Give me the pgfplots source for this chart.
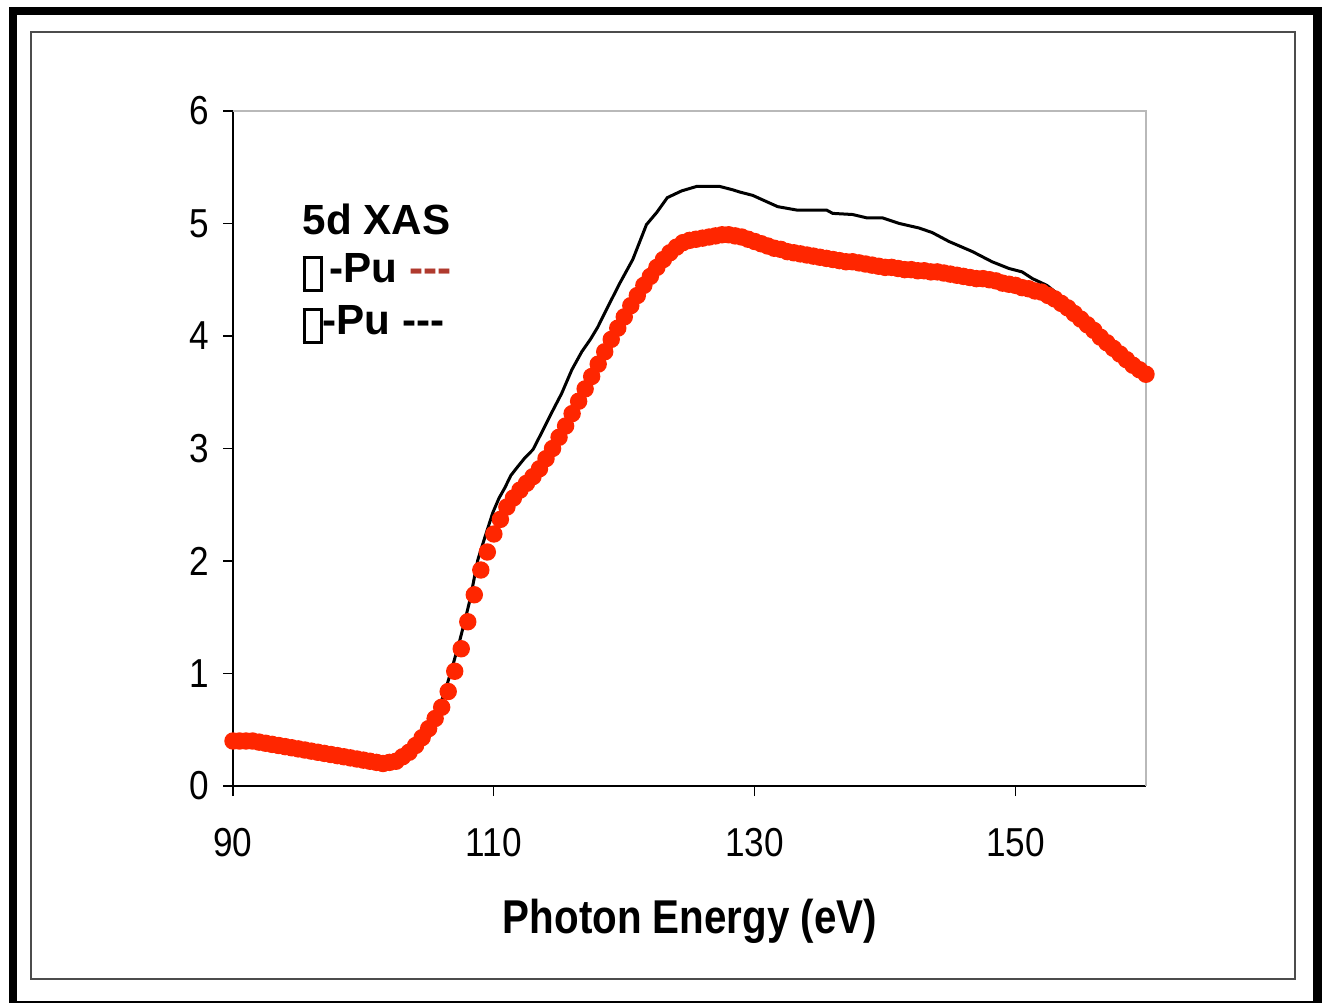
\documentclass[border=0pt]{standalone}
\usepackage{fontspec}
\setmainfont{Liberation Sans}
\usepackage{pgfplots}
\pgfplotsset{compat=1.18}
\definecolor{mred}{RGB}{255,38,0}
\definecolor{lred}{RGB}{176,58,46}
\newcommand\tofu{\raisebox{-0.6mm}{\setlength\fboxsep{0pt}\setlength\fboxrule{0.3mm}\fbox{\rule{0pt}{3.0mm}\hspace{1.4mm}}}}
\newcommand\dashes{-\kern0pt-\kern0pt-}
\begin{document}
\begin{tikzpicture}
\useasboundingbox (-23.3mm,-21.6mm) rectangle (109.0mm,78.6mm);
\draw[line width=0.85mm] (-22.0mm,-21.9mm) rectangle (108.45mm,77.5mm);
\draw[line width=0.15mm, gray!60!black] (-20.2mm,-19.3mm) rectangle (106.2mm,75.4mm);
\begin{axis}[
  at={(0,0)}, anchor=south west,
  scale only axis, width=91.3mm, height=67.5mm,
  xmin=90, xmax=160, ymin=0, ymax=6,
  axis x line*=bottom, axis y line*=left,
  axis line style={line width=0.12mm, black},
  xtick={90,110,130,150}, ytick={0,1,2,3,4,5,6},
  tick align=outside, major tick length=1mm,
  tick style={line width=0.12mm, black},
  /pgf/number format/assume math mode=true,
  ticklabel style={font=\fontsize{11.5}{13}\selectfont, xscale=0.87},
  xticklabel style={anchor=north, inner sep=0pt, yshift=-3.2mm},
  yticklabel style={anchor=east, inner sep=0pt, xshift=-1.5mm},
  clip=false,
]
\draw[gray!55, line width=0.12mm] (rel axis cs:0,1) -- (rel axis cs:1,1) -- (rel axis cs:1,0);
\addplot[black, line width=0.3mm, mark=none] coordinates {
(90,0.40) (92,0.39) (94,0.35) (96,0.31) (98,0.27) (100,0.23) (101.5,0.20) (102.5,0.22)
(103.5,0.30) (104.5,0.44) (105.5,0.62) (106.2,0.82) (106.8,1.05) (107.4,1.30) (107.8,1.48)
(108.16,1.65) (108.5,1.85) (108.77,2.01) (109.31,2.21) (109.92,2.43) (110.4,2.56) (110.84,2.65)
(111.3,2.76) (111.84,2.84) (112.4,2.92) (113.0,2.99) (113.75,3.16) (114.44,3.32) (115.2,3.49)
(115.98,3.70) (116.74,3.86) (117.4,3.97) (117.97,4.08) (118.74,4.26) (119.66,4.47) (120.65,4.68)
(121.7,4.99) (122.5,5.10) (123.3,5.23) (124.4,5.29) (125.56,5.33) (126.4,5.33) (127.3,5.33)
(128.3,5.30) (128.85,5.28) (129.85,5.25) (130.8,5.20) (131.76,5.15) (133.2,5.12) (135.5,5.12)
(135.98,5.09) (137.5,5.08) (138.6,5.05) (139.8,5.05) (141.1,5.00) (142.6,4.96) (143.6,4.92)
(144.9,4.84) (146.7,4.75) (148.2,4.66) (149.5,4.60) (150.5,4.57) (151.3,4.51) (152.4,4.45)
(153.5,4.35) (155,4.19) (157,3.97) (159.3,3.76) (160,3.69)
};
\addplot[only marks, mark=*, mark size=0.8mm, mred, mark options={draw=mred, fill=mred}] coordinates {
(90,0.40) (90.5,0.40) (91,0.40) (91.5,0.40) (92,0.39) (92.5,0.38) (93,0.37) (93.5,0.36)
(94,0.35) (94.5,0.34) (95,0.33) (95.5,0.32) (96,0.31) (96.5,0.30) (97,0.29) (97.5,0.28)
(98,0.27) (98.5,0.26) (99,0.25) (99.5,0.24) (100,0.23) (100.5,0.22) (101,0.21) (101.5,0.20)
(102,0.21) (102.5,0.22) (103,0.26) (103.5,0.30) (104,0.36) (104.5,0.43) (105,0.51) (105.5,0.60)
(106,0.70) (106.5,0.84) (107,1.02) (107.5,1.22) (108,1.46) (108.5,1.70) (109,1.92) (109.5,2.08)
(110,2.24) (110.5,2.37) (111,2.48) (111.5,2.56) (112,2.63) (112.5,2.69) (113,2.75) (113.5,2.82)
(114,2.91) (114.5,3.00) (115,3.10) (115.5,3.20) (116,3.31) (116.5,3.42) (117,3.53) (117.5,3.64)
(118,3.75) (118.5,3.86) (119,3.97) (119.5,4.07) (120,4.17) (120.5,4.27) (121,4.36) (121.5,4.45)
(122,4.53) (122.5,4.61) (123,4.68) (123.5,4.74) (124,4.79) (124.5,4.83) (125,4.85) (125.5,4.86)
(126,4.87) (126.5,4.88) (127,4.89) (127.5,4.90) (128,4.90) (128.5,4.89) (129,4.88) (129.5,4.86)
(130,4.84) (130.5,4.82) (131,4.80) (131.5,4.78) (132,4.77) (132.5,4.75) (133,4.74) (133.5,4.73)
(134,4.72) (134.5,4.71) (135,4.70) (135.5,4.69) (136,4.68) (136.5,4.67) (137,4.66) (137.5,4.66)
(138,4.65) (138.5,4.64) (139,4.63) (139.5,4.62) (140,4.61) (140.5,4.61) (141,4.60) (141.5,4.59)
(142,4.59) (142.5,4.58) (143,4.58) (143.5,4.57) (144,4.57) (144.5,4.56) (145,4.55) (145.5,4.54)
(146,4.53) (146.5,4.52) (147,4.51) (147.5,4.51) (148,4.50) (148.5,4.49) (149,4.47) (149.5,4.46)
(150,4.45) (150.5,4.43) (151,4.42) (151.5,4.40) (152,4.39) (152.5,4.36) (153,4.33) (153.5,4.29)
(154,4.25) (154.5,4.20) (155,4.15) (155.5,4.10) (156,4.05) (156.5,3.99) (157,3.94) (157.5,3.89)
(158,3.84) (158.5,3.79) (159,3.74) (159.5,3.70) (160,3.66)
};
\end{axis}
\node[anchor=base, font=\bfseries\fontsize{13.5}{16}\selectfont, inner sep=0pt, xscale=0.85] at (45.7mm,-14.7mm) {Photon Energy (eV)};
\node[anchor=base west, font=\bfseries\fontsize{12}{14}\selectfont, inner sep=0pt] at (6.9mm,55.1mm) {5d XAS};
\node[anchor=base west, font=\bfseries\fontsize{12}{14}\selectfont, inner sep=0pt] at (6.9mm,50.3mm) {\tofu\,-Pu \textcolor{lred}{\dashes}};
\node[anchor=base west, font=\bfseries\fontsize{12}{14}\selectfont, inner sep=0pt] at (6.9mm,45.1mm) {\tofu-Pu \dashes};
\end{tikzpicture}
\end{document}
